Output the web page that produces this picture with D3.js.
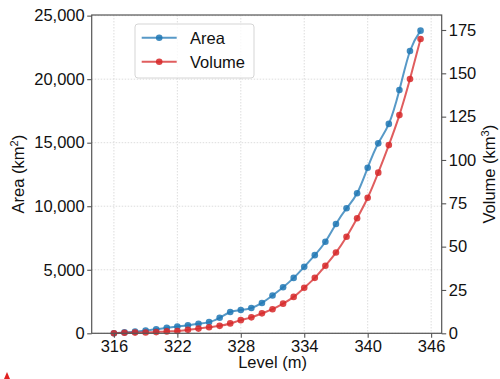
<!DOCTYPE html>
<html><head><meta charset="utf-8">
<script src="https://cdn.jsdelivr.net/npm/d3@7"></script>
<style>
html,body{margin:0;padding:0;background:#fff;}
svg{display:block;font-family:"Liberation Sans",Arial,Helvetica,sans-serif;}
</style></head>
<body>
<svg id="chart" width="500" height="379"></svg>
<script>
const levels = [316,317,318,319,320,321,322,323,324,325,326,327,328,329,330,331,332,333,334,335,336,337,338,339,340,341,342,343,344,345];
const areaValues = [0,70,130,220,310,440,540,630,750,880,1220,1680,1830,1990,2390,2970,3620,4360,5230,6150,7200,8600,9840,11020,13030,14950,16480,19150,22220,23820];
const volumeValues = [0,0.3,0.4,0.5,0.7,1.1,1.3,2.0,2.7,3.5,4.3,5.7,7.6,9.2,11.5,13.9,17.1,21.0,26.3,32.0,39.0,46.6,55.7,66.4,78.2,92.7,108.6,125.9,146.7,169.8];
const xTicks = [316,322,328,334,340,346];
const areaTicks = [0,5000,10000,15000,20000,25000];
const volumeTicks = [0,25,50,75,100,125,150,175];
const seriesNames = ["Area","Volume"];

const svg = d3.select("#chart");
const L = 91.7, R = 441.7, T = 15, B = 333.3;
const x = d3.scaleLinear().domain([313.9,347.0]).range([L,R]);
const yA = d3.scaleLinear().domain([0,25050]).range([B,T]);
const yV = d3.scaleLinear().domain([0,183.65]).range([B,T]);

const blue = "#1f77b4", red = "#d62728";
const fs = 16.5;

// grid
const grid = svg.append("g");
grid.selectAll("line.v").data(xTicks).join("line")
  .attr("x1",d=>x(d)).attr("x2",d=>x(d)).attr("y1",T).attr("y2",B)
  .attr("stroke","#d9d9d9").attr("stroke-width",0.9).attr("stroke-dasharray","1.5,1.5");
grid.selectAll("line.h").data(areaTicks).join("line")
  .attr("x1",L).attr("x2",R).attr("y1",d=>yA(d)).attr("y2",d=>yA(d))
  .attr("stroke","#d9d9d9").attr("stroke-width",0.9).attr("stroke-dasharray","1.5,1.5");

// lines
const areaData = levels.map((l,i)=>[l,areaValues[i]]);
const volData = levels.map((l,i)=>[l,volumeValues[i]]);
const lineA = d3.line().x(d=>x(d[0])).y(d=>yA(d[1])).curve(d3.curveNatural);
const lineV = d3.line().x(d=>x(d[0])).y(d=>yV(d[1])).curve(d3.curveNatural);
svg.append("path").datum(areaData).attr("d",lineA).attr("fill","none")
  .attr("stroke",blue).attr("stroke-opacity",0.75).attr("stroke-width",2);
svg.append("path").datum(volData).attr("d",lineV).attr("fill","none")
  .attr("stroke",red).attr("stroke-opacity",0.75).attr("stroke-width",2);
svg.append("g").selectAll("circle").data(areaData).join("circle")
  .attr("cx",d=>x(d[0])).attr("cy",d=>yA(d[1])).attr("r",3.3)
  .attr("fill",blue).attr("fill-opacity",0.85);
svg.append("g").selectAll("circle").data(volData).join("circle")
  .attr("cx",d=>x(d[0])).attr("cy",d=>yV(d[1])).attr("r",3.3)
  .attr("fill",red).attr("fill-opacity",0.85);

// axes
const fmt = d3.format(",");
const gL = svg.append("g").attr("transform",`translate(${L},0)`)
  .call(d3.axisLeft(yA).tickValues(areaTicks).tickFormat(fmt).tickSize(4.5).tickPadding(2.5));
const gR = svg.append("g").attr("transform",`translate(${R},0)`)
  .call(d3.axisRight(yV).tickValues(volumeTicks).tickSize(4.5).tickPadding(2.5));
const gB = svg.append("g").attr("transform",`translate(0,${B})`)
  .call(d3.axisBottom(x).tickValues(xTicks).tickFormat(d3.format("d")).tickSize(4.5).tickPadding(2.5));
[gL,gR,gB].forEach(g=>{
  g.select(".domain").remove();
  g.selectAll(".tick line").attr("stroke","#555").attr("stroke-width",1.1);
  g.selectAll(".tick text").attr("font-size",fs).attr("fill","#111").attr("font-family","Liberation Sans, Arial, sans-serif");
});
// frame
svg.append("rect").attr("x",L).attr("y",T).attr("width",R-L).attr("height",B-T)
  .attr("fill","none").attr("stroke","#555").attr("stroke-width",1.2);

// axis labels
svg.append("text").attr("x",x(331)).attr("y",368).attr("text-anchor","middle")
  .attr("font-size",fs).attr("fill","#111").text("Level (m)");
const al = svg.append("text").attr("transform",`translate(24,${(T+B)/2}) rotate(-90)`)
  .attr("text-anchor","middle").attr("font-size",fs).attr("fill","#111");
al.append("tspan").text("Area (km");
al.append("tspan").attr("font-size",11).attr("dy",-6).text("2");
al.append("tspan").attr("dy",6).text(")");
const vl = svg.append("text").attr("transform",`translate(495,${(T+B)/2}) rotate(-90)`)
  .attr("text-anchor","middle").attr("font-size",fs).attr("fill","#111");
vl.append("tspan").text("Volume (km");
vl.append("tspan").attr("font-size",11).attr("dy",-6).text("3");
vl.append("tspan").attr("dy",6).text(")");

// legend
const lg = svg.append("g");
lg.append("rect").attr("x",135).attr("y",24).attr("width",119).attr("height",54).attr("rx",3)
  .attr("fill","#fff").attr("fill-opacity",0.8).attr("stroke","#d0d0d0").attr("stroke-width",0.9);
const colors = [blue, red];
seriesNames.forEach((n,i)=>{
  const cy = 37.7 + i*24;
  lg.append("line").attr("x1",141.7).attr("x2",176.7).attr("y1",cy).attr("y2",cy)
    .attr("stroke",colors[i]).attr("stroke-opacity",0.75).attr("stroke-width",2);
  lg.append("circle").attr("cx",159.2).attr("cy",cy).attr("r",3.3).attr("fill",colors[i]).attr("fill-opacity",0.85);
  lg.append("text").attr("x",190).attr("y",cy+6).attr("font-size",fs).attr("fill","#111").text(n);
});

// small red mark bottom-left
svg.append("path").attr("d","M4,379 L7,372 L10,379 Z").attr("fill","#e02020");
</script>
</body></html>
